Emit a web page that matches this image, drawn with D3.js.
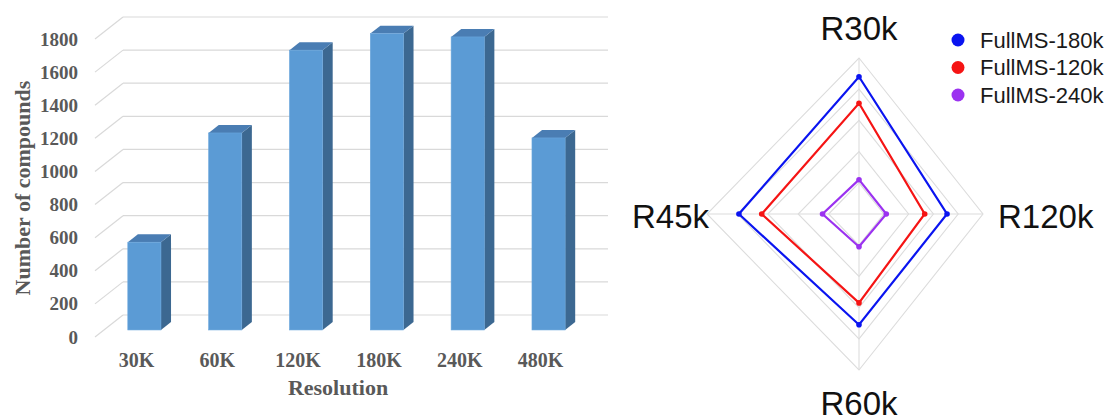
<!DOCTYPE html>
<html>
<head>
<meta charset="utf-8">
<script src="https://cdn.jsdelivr.net/npm/d3@7"></script>
<style>
  html, body { margin: 0; padding: 0; background: #fff; }
  svg { display: block; }
</style>
</head>
<body>
<svg id="chart" width="1107" height="418"></svg>
<script>
// ---- Bar chart data: compounds found per resolution ----
const resolutions = ["30K", "60K", "120K", "180K", "240K", "480K"];
const compounds = [530, 1190, 1690, 1790, 1770, 1160];
const yTicks = [0, 200, 400, 600, 800, 1000, 1200, 1400, 1600, 1800];

// ---- Radar data ----
const radarAxes = ["R30k", "R120k", "R60k", "R45k"];
const radarSeriesNames = ["FullMS-180k", "FullMS-120k", "FullMS-240k"];
const full180k = [88, 71, 71, 79];
const full120k = [71, 53, 57, 64];
const full240k = [22, 22, 21, 24];
const radarRings = [20, 40, 60, 80, 100];

const svg = d3.select("#chart");

// ================= 3D column chart =================
const bar = svg.append("g");
const textGrey = "#595959";
const serif = "'Liberation Serif', 'Times New Roman', serif";

// back wall coordinates; depth vector points toward the viewer
const backLeft = 123, backRight = 608;
const depth = { x: -28, y: 22 };
const y = d3.scaleLinear().domain([0, 1800]).range([315, 17]);
const x = d3.scaleBand().domain(resolutions).range([backLeft, backRight]).paddingInner(0).paddingOuter(0);

// gridlines: horizontal on the back wall plus a diagonal on the floor side
yTicks.forEach(t => {
  const yb = y(t);
  bar.append("line")
    .attr("x1", backLeft).attr("x2", backRight)
    .attr("y1", yb).attr("y2", yb)
    .attr("stroke", "#d9d9d9").attr("stroke-width", 1.2);
  bar.append("line")
    .attr("x1", backLeft + depth.x).attr("y1", yb + depth.y)
    .attr("x2", backLeft).attr("y2", yb)
    .attr("stroke", "#d9d9d9").attr("stroke-width", 1.2);
});

// y tick labels sit on the front plane
bar.selectAll("text.ytick").data(yTicks).enter().append("text")
  .attr("class", "ytick")
  .attr("x", 78)
  .attr("y", d => y(d) + depth.y)
  .attr("text-anchor", "end")
  .attr("dominant-baseline", "central")
  .attr("font-family", serif).attr("font-weight", "bold")
  .attr("font-size", 19).attr("fill", textGrey)
  .text(d => d);

// bars: front face at 68% of the depth, box depth 36%
const barW = x.bandwidth() * 0.41;
const fFront = 0.68, fDepth = 0.36;
const colFront = "#5b9bd5", colSide = "#3c6891", colTop = "#4a7db3";

resolutions.forEach((r, i) => {
  const v = compounds[i];
  const cx = x(r) + x.bandwidth() / 2 + depth.x * fFront;
  const x0 = cx - barW / 2, x1 = cx + barW / 2;
  const yBottom = y(0) + depth.y * fFront;
  const yTop = y(v) + depth.y * fFront;
  const dx = -depth.x * fDepth, dy = -depth.y * fDepth;

  // side face
  bar.append("path")
    .attr("d", `M${x1},${yBottom} L${x1 + dx},${yBottom + dy} L${x1 + dx},${yTop + dy} L${x1},${yTop} Z`)
    .attr("fill", colSide);
  // top face
  bar.append("path")
    .attr("d", `M${x0},${yTop} L${x0 + dx},${yTop + dy} L${x1 + dx},${yTop + dy} L${x1},${yTop} Z`)
    .attr("fill", colTop);
  // front face
  bar.append("rect")
    .attr("x", x0).attr("y", yTop)
    .attr("width", barW).attr("height", yBottom - yTop)
    .attr("fill", colFront)
    .attr("stroke", "#6aa6dc").attr("stroke-width", 0.6);
});

// category labels on the front plane
bar.selectAll("text.xtick").data(resolutions).enter().append("text")
  .attr("class", "xtick")
  .attr("x", d => x(d) + x.bandwidth() / 2 + depth.x + 1)
  .attr("y", 367)
  .attr("text-anchor", "middle")
  .attr("font-family", serif).attr("font-weight", "bold")
  .attr("font-size", 20).attr("fill", textGrey)
  .text(d => d);

bar.append("text")
  .attr("x", 338).attr("y", 395)
  .attr("text-anchor", "middle")
  .attr("font-family", serif).attr("font-weight", "bold")
  .attr("font-size", 22).attr("fill", textGrey)
  .text("Resolution");

bar.append("text")
  .attr("transform", "translate(30,188) rotate(-90)")
  .attr("text-anchor", "middle")
  .attr("font-family", serif).attr("font-weight", "bold")
  .attr("font-size", 22).attr("fill", textGrey)
  .text("Number of compounds");

// ================= Radar chart =================
const radar = svg.append("g").attr("transform", "translate(859,214)");
const sans = "'Liberation Sans', Arial, sans-serif";

// axis directions clockwise from the top; the right axis has a shorter reach
const angles = radarAxes.map((_, i) => -Math.PI / 2 + i * Math.PI / 2);
const reach = [156, 124, 156, 152];
const rScale = radarAxes.map((_, i) => d3.scaleLinear().domain([0, 100]).range([0, reach[i]]));
const pt = (i, v) => [Math.cos(angles[i]) * rScale[i](v), Math.sin(angles[i]) * rScale[i](v)];

const closed = d3.line().curve(d3.curveLinearClosed);

// grid rings
radarRings.forEach(v => {
  radar.append("path")
    .attr("d", closed(radarAxes.map((_, i) => pt(i, v))))
    .attr("fill", "none").attr("stroke", "#dcdcdc").attr("stroke-width", 1.1);
});
// spokes
radarAxes.forEach((_, i) => {
  const [ex, ey] = pt(i, 100);
  radar.append("line")
    .attr("x1", 0).attr("y1", 0).attr("x2", ex).attr("y2", ey)
    .attr("stroke", "#dcdcdc").attr("stroke-width", 1.1);
});

const seriesColors = ["#0a14f0", "#f51414", "#9b32f0"];
const seriesValues = [full180k, full120k, full240k];

seriesValues.forEach((vals, s) => {
  const pts = vals.map((v, i) => pt(i, v));
  radar.append("path")
    .attr("d", closed(pts))
    .attr("fill", "none")
    .attr("stroke", seriesColors[s]).attr("stroke-width", 2.2)
    .attr("stroke-linejoin", "miter");
  radar.selectAll(null).data(pts).enter().append("circle")
    .attr("cx", d => d[0]).attr("cy", d => d[1]).attr("r", 2.8)
    .attr("fill", seriesColors[s]);
});

// axis names
const labelPos = [
  { x: 0, y: -174, anchor: "middle" },
  { x: 139, y: 14, anchor: "start" },
  { x: 0, y: 201, anchor: "middle" },
  { x: -150, y: 14, anchor: "end" }
];
radarAxes.forEach((name, i) => {
  radar.append("text")
    .attr("x", labelPos[i].x).attr("y", labelPos[i].y)
    .attr("text-anchor", labelPos[i].anchor)
    .attr("font-family", sans).attr("font-size", 33).attr("fill", "#111")
    .text(name);
});

// legend
const legend = svg.append("g").attr("transform", "translate(958,40)");
radarSeriesNames.forEach((name, s) => {
  const row = legend.append("g").attr("transform", `translate(0,${s * 27.5})`);
  row.append("circle").attr("r", 6.5).attr("fill", seriesColors[s]);
  row.append("text")
    .attr("x", 22).attr("y", 0)
    .attr("dominant-baseline", "central")
    .attr("font-family", sans).attr("font-size", 22).attr("fill", "#1a1a1a")
    .text(name);
});
</script>
</body>
</html>
